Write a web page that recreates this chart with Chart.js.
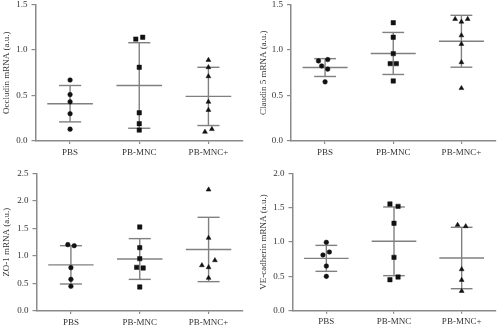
<!DOCTYPE html>
<html><head><meta charset="utf-8">
<script src="https://cdn.jsdelivr.net/npm/chart.js@4"></script>
<style>
html,body{margin:0;padding:0;background:#fff;width:500px;height:327px;overflow:hidden;position:relative}
canvas{position:absolute}
</style></head><body>
<canvas id="c1" width="250" height="173" style="left:0px;top:-10px"></canvas>
<canvas id="c2" width="250" height="173" style="left:250px;top:-10px"></canvas>
<canvas id="c3" width="250" height="183" style="left:0px;top:150px"></canvas>
<canvas id="c4" width="250" height="183" style="left:250px;top:150px"></canvas>
<script>
const categories = ['PBS', 'PB-MNC', 'PB-MNC+'];

// Occludin
const occludinPBS  = [0.67, 0.51, 0.43, 0.30, 0.13];
const occludinMNC  = [1.12, 1.14, 0.81, 0.31, 0.19, 0.12];
const occludinMNCp = [0.89, 0.81, 0.71, 0.43, 0.34, 0.10, 0.13];
const occludinMean = [0.41, 0.61, 0.49];
const occludinSD   = [0.20, 0.47, 0.32];
const occludinJitter = [[0,0,0,0,0],[-0.05,0.05,0,0,0,0],[0,0,0,0,0,-0.05,0.05]];

// Claudin 5
const claudinPBS  = [0.88, 0.895, 0.825, 0.79, 0.65];
const claudinMNC  = [1.30, 1.14, 0.96, 0.85, 0.85, 0.66];
const claudinMNCp = [1.34, 1.31, 1.34, 1.16, 1.065, 0.865, 0.58];
const claudinMean = [0.807, 0.962, 1.096];
const claudinSD   = [0.098, 0.231, 0.285];
const claudinJitter = [[-0.097,0.039,-0.05,0.039,0],[0,0,0,-0.045,0.045,0],[-0.092,0,0.092,0,0,0,0]];

// ZO-1
const zo1PBS  = [1.205, 1.186, 0.787, 0.575, 0.448];
const zo1MNC  = [1.525, 1.15, 0.95, 0.793, 0.781, 0.436];
const zo1MNCp = [2.203, 1.326, 0.829, 0.92, 0.793, 0.60];
const zo1Mean = [0.838, 0.944, 1.117];
const zo1SD   = [0.348, 0.37, 0.584];
const zo1Jitter = [[-0.045,0.048,0,0,0],[0,0,0,-0.045,0.05,0],[0,0,-0.097,0.092,0,0]];

// VE-cadherin
const vePBS  = [0.995, 0.854, 0.811, 0.65, 0.50];
const veMNC  = [1.553, 1.519, 1.272, 0.777, 0.451, 0.49];
const veMNCp = [1.248, 1.228, 0.602, 0.447, 0.286];
const veMean = [0.762, 1.01, 0.767];
const veSD   = [0.189, 0.50, 0.447];
const veJitter = [[0,0.045,-0.05,0,0],[-0.06,0.06,0,0,-0.06,0.06],[-0.06,0.06,0,0,0]];

const AXIS = '#8a8a8a', LINE = '#808080', TEXT = '#333333', PT = '#111111';
const FONT = {family: "'Liberation Serif', 'DejaVu Serif', serif", size: 9, lineHeight: 1.2};

const errPlugin = {
  id: 'errbars',
  beforeDatasetsDraw(chart, args, opts) {
    const {ctx, scales: {x, y}} = chart;
    ctx.save();
    ctx.strokeStyle = LINE;
    ctx.lineWidth = 1.4;
    opts.mean.forEach((m, i) => {
      const c = i + 1, s = opts.sd[i];
      const seg = (x1, y1, x2, y2) => {
        ctx.beginPath();
        ctx.moveTo(x.getPixelForValue(x1), y.getPixelForValue(y1));
        ctx.lineTo(x.getPixelForValue(x2), y.getPixelForValue(y2));
        ctx.stroke();
      };
      seg(c - opts.half, m, c + opts.half, m);
      seg(c - opts.cap, m + s, c + opts.cap, m + s);
      seg(c - opts.cap, m - s, c + opts.cap, m - s);
      seg(c, m - s, c, m + s);
    });
    ctx.restore();
  }
};

function makePanel(id, p) {
  const styles = ['circle', 'rect', 'triangle'];
  const radii = [2.3, 3.1, 2.8];
  const datasets = p.groups.map((vals, gi) => ({
    data: vals.map((v, k) => ({x: gi + 1 + p.jitter[gi][k], y: v})),
    pointStyle: styles[gi],
    pointRadius: radii[gi],
    pointBackgroundColor: PT,
    pointBorderColor: PT,
    pointBorderWidth: 0.5,
    showLine: false
  }));
  new Chart(document.getElementById(id), {
    type: 'scatter',
    data: {datasets},
    options: {
      responsive: false,
      animation: false,
      events: [],
      layout: {padding: {top: p.padTop, right: p.padRight, bottom: 0, left: 0}},
      plugins: {
        legend: {display: false},
        tooltip: {enabled: false},
        errbars: {mean: p.mean, sd: p.sd, half: 0.33, cap: 0.16}
      },
      scales: {
        x: {
          type: 'linear', min: 0.5, max: 3.5,
          afterBuildTicks: s => { s.ticks = [1, 2, 3].map(v => ({value: v})); },
          afterFit: s => { s.height = p.xh; },
          ticks: {callback: v => categories[v - 1], color: TEXT, font: FONT, padding: 3, maxRotation: 0, autoSkip: false},
          grid: {drawOnChartArea: false, drawTicks: true, tickLength: 3, color: AXIS, lineWidth: 1.2},
          border: {display: true, color: AXIS, width: 1.5}
        },
        y: {
          type: 'linear', min: 0, max: p.ymax,
          afterFit: s => { s.width = p.yw; },
          ticks: {stepSize: 0.5, callback: v => v.toFixed(1), color: TEXT, font: FONT, padding: 4},
          grid: {drawOnChartArea: false, drawTicks: true, tickLength: 4, color: AXIS, lineWidth: 1.2},
          border: {display: true, color: AXIS, width: 1.5},
          title: {display: true, text: p.title, color: TEXT, font: FONT, padding: {top: p.titleX - 5.4, bottom: 0}}
        }
      }
    },
    plugins: [errPlugin]
  });
}

makePanel('c1', {groups: [occludinPBS, occludinMNC, occludinMNCp], jitter: occludinJitter, mean: occludinMean, sd: occludinSD,
  title: 'Occludin mRNA (a.u.)', ymax: 1.5, padTop: 14.5, padRight: 7, yw: 35.5, xh: 22, titleX: 6.7});
makePanel('c2', {groups: [claudinPBS, claudinMNC, claudinMNCp], jitter: claudinJitter, mean: claudinMean, sd: claudinSD,
  title: 'Claudin 5 mRNA (a.u.)', ymax: 1.5, padTop: 14.5, padRight: 2, yw: 41, xh: 22, titleX: 13.3});
makePanel('c3', {groups: [zo1PBS, zo1MNC, zo1MNCp], jitter: zo1Jitter, mean: zo1Mean, sd: zo1SD,
  title: 'ZO-1 mRNA (a.u.)', ymax: 2.5, padTop: 23.3, padRight: 7, yw: 36.5, xh: 22, titleX: 6.7});
makePanel('c4', {groups: [vePBS, veMNC, veMNCp], jitter: veJitter, mean: veMean, sd: veSD,
  title: 'VE-cadherin mRNA (a.u.)', ymax: 2.0, padTop: 23.3, padRight: 1.5, yw: 42.5, xh: 22.3, titleX: 13.3});
</script>
</body></html>
